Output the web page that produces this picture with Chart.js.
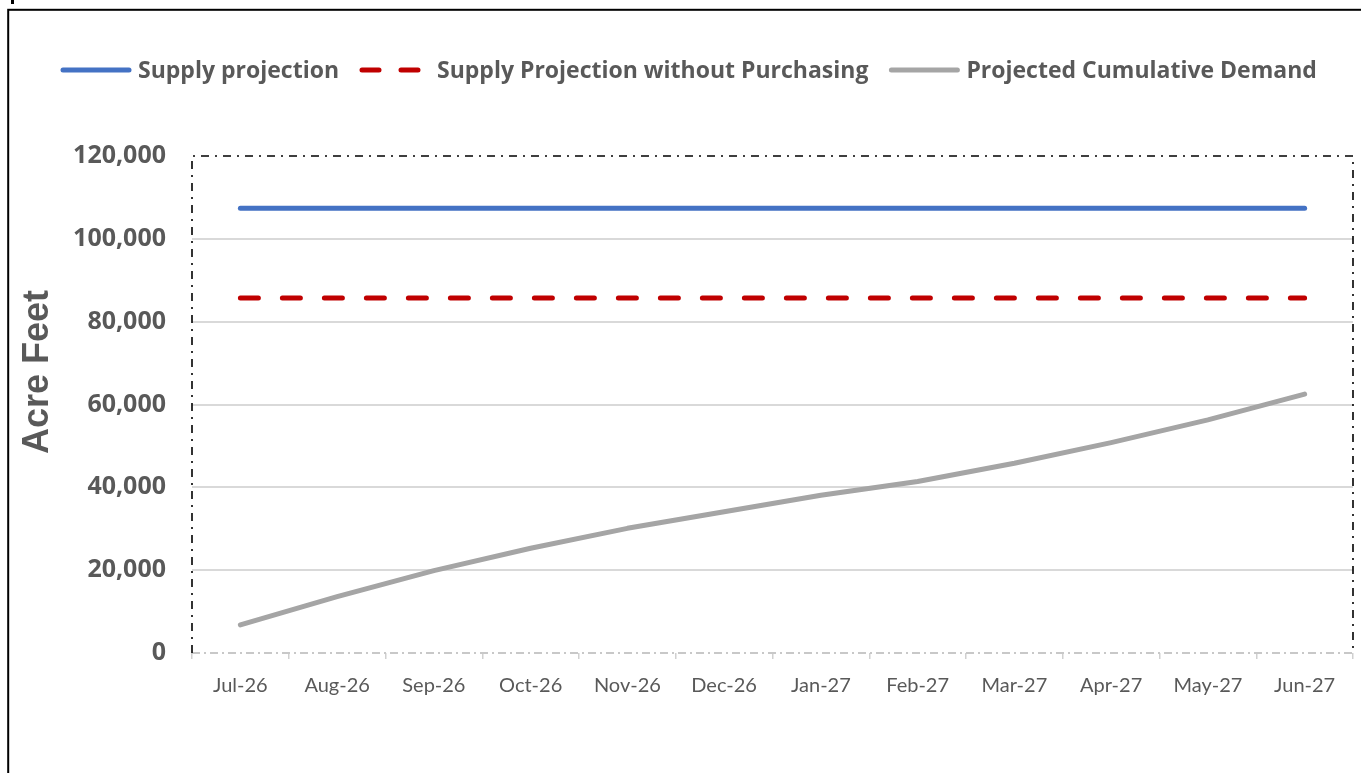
<!DOCTYPE html>
<html><head><meta charset="utf-8">
<script src="https://cdn.jsdelivr.net/npm/chart.js@4.4.1/dist/chart.umd.min.js"></script>
<style>html,body{margin:0;padding:0;background:#fff;overflow:hidden}canvas{display:block}</style>
</head><body>
<canvas id="c" width="1361" height="773"></canvas>
<script>
const categories = ['Jul-26','Aug-26','Sep-26','Oct-26','Nov-26','Dec-26','Jan-27','Feb-27','Mar-27','Apr-27','May-27','Jun-27'];
const supplyProjection = [107400,107400,107400,107400,107400,107400,107400,107400,107400,107400,107400,107400];
const supplyWithoutPurchasing = [85700,85700,85700,85700,85700,85700,85700,85700,85700,85700,85700,85700];
const cumulativeDemand = [6800,13600,19900,25300,30100,34100,38100,41400,45800,50800,56300,62500];
const yTickValues = [0,20000,40000,60000,80000,100000,120000];
const seriesNames = ['Supply projection','Supply Projection without Purchasing','Projected Cumulative Demand'];
const yTitle = 'Acre Feet';

const TEXT = '#595959';

const decorPlugin = {
  id: 'decor',
  beforeDatasetsDraw(chart) {
    const ctx = chart.ctx, a = chart.chartArea;
    ctx.save();
    // bottom axis line: light gray dash-dot
    ctx.beginPath();
    ctx.setLineDash([8,4,2,4]);
    ctx.lineWidth = 2; ctx.strokeStyle = '#c8c8c8';
    ctx.moveTo(a.left, a.bottom); ctx.lineTo(a.right, a.bottom);
    ctx.stroke();
    ctx.restore();
  },
  afterDraw(chart) {
    const ctx = chart.ctx, a = chart.chartArea;
    ctx.save();
    // outer frame
    ctx.setLineDash([]);
    ctx.strokeStyle = '#000'; ctx.lineWidth = 2;
    ctx.strokeRect(8.2, 9.8, 2000, 2000);
    ctx.fillStyle = '#000'; ctx.fillRect(11, 0, 3, 4);
    // plot area left, top and right dash-dot border
    ctx.beginPath();
    ctx.setLineDash([8,6,2,6]);
    ctx.lineWidth = 1.6; ctx.strokeStyle = '#000';
    ctx.moveTo(a.left, a.bottom); ctx.lineTo(a.left, a.top); ctx.lineTo(a.right, a.top); ctx.lineTo(a.right, a.bottom);
    ctx.stroke();
    ctx.setLineDash([]);
    // y title
    ctx.save();
    ctx.translate(38, 372);
    ctx.rotate(-Math.PI/2);
    ctx.font = 'bold 36px "Liberation Sans", Arial, sans-serif';
    ctx.fillStyle = TEXT; ctx.textAlign = 'center'; ctx.textBaseline = 'middle';
    ctx.fillText(yTitle, 0, 0);
    ctx.restore();
    // legend
    ctx.font = 'bold 23px "Open Sans", sans-serif';
    const sample = 72, gapText = 6, gapItem = 20;
    const items = chart.data.datasets.map(ds => ({label: ds.label, color: ds.borderColor, dash: ds.borderDash ? [17,22] : [], w: ctx.measureText(ds.label).width}));
    const total = items.reduce((s,it)=>s+sample+gapText+it.w,0) + gapItem*(items.length-1);
    let x = 60; const y = 70;
    items.forEach(it => {
      ctx.beginPath();
      ctx.setLineDash(it.dash); ctx.lineWidth = 5; ctx.lineCap = 'round'; ctx.strokeStyle = it.color;
      ctx.moveTo(x+3, y); ctx.lineTo(x+sample-3, y); ctx.stroke();
      ctx.setLineDash([]);
      ctx.fillStyle = TEXT; ctx.textAlign = 'left'; ctx.textBaseline = 'middle';
      ctx.fillText(it.label, x+sample+gapText, y+1);
      x += sample + gapText + it.w + gapItem;
    });
    ctx.restore();
  }
};

new Chart(document.getElementById('c'), {
  type: 'line',
  data: {
    labels: categories,
    datasets: [
      {label: seriesNames[0], data: supplyProjection, borderColor: '#4472C4', borderWidth: 5, borderCapStyle: 'round', pointRadius: 0, fill: false},
      {label: seriesNames[1], data: supplyWithoutPurchasing, borderColor: '#C00000', borderWidth: 5, borderDash: [18,24], borderCapStyle: 'round', pointRadius: 0, fill: false},
      {label: seriesNames[2], data: cumulativeDemand, borderColor: '#A5A5A5', borderWidth: 5, borderCapStyle: 'round', borderJoinStyle: 'round', pointRadius: 0, fill: false, tension: 0}
    ]
  },
  options: {
    responsive: false, animation: false, devicePixelRatio: 1,
    layout: {padding: {left: 0, top: 156, right: 8, bottom: 0}},
    plugins: {legend: {display: false}, tooltip: {enabled: false}, title: {display: false}},
    scales: {
      x: {
        offset: true,
        grid: {display: true, offset: true, drawOnChartArea: false, drawTicks: true, tickLength: 6, color: '#d0d0d0', lineWidth: 1.5},
        border: {display: false},
        ticks: {color: TEXT, font: {family: 'Lato', size: 20}, padding: 15, autoSkip: false, maxRotation: 0},
        afterFit(s) { s.height = 120; }
      },
      y: {
        min: 0, max: 120000,
        afterBuildTicks(s) { s.ticks = yTickValues.map(v => ({value: v})); },
        grid: {drawTicks: false, lineWidth: 2, color: c => (c.tick && (c.tick.value === 0 || c.tick.value === 120000)) ? 'rgba(0,0,0,0)' : '#d9d9d9'},
        border: {display: false},
        ticks: {color: TEXT, font: {family: 'Open Sans', size: 25, weight: 'bold'}, padding: 26, callback: v => v.toLocaleString('en-US')},
        afterFit(s) { s.width = 192; }
      }
    }
  },
  plugins: [decorPlugin]
});
</script>
</body></html>
